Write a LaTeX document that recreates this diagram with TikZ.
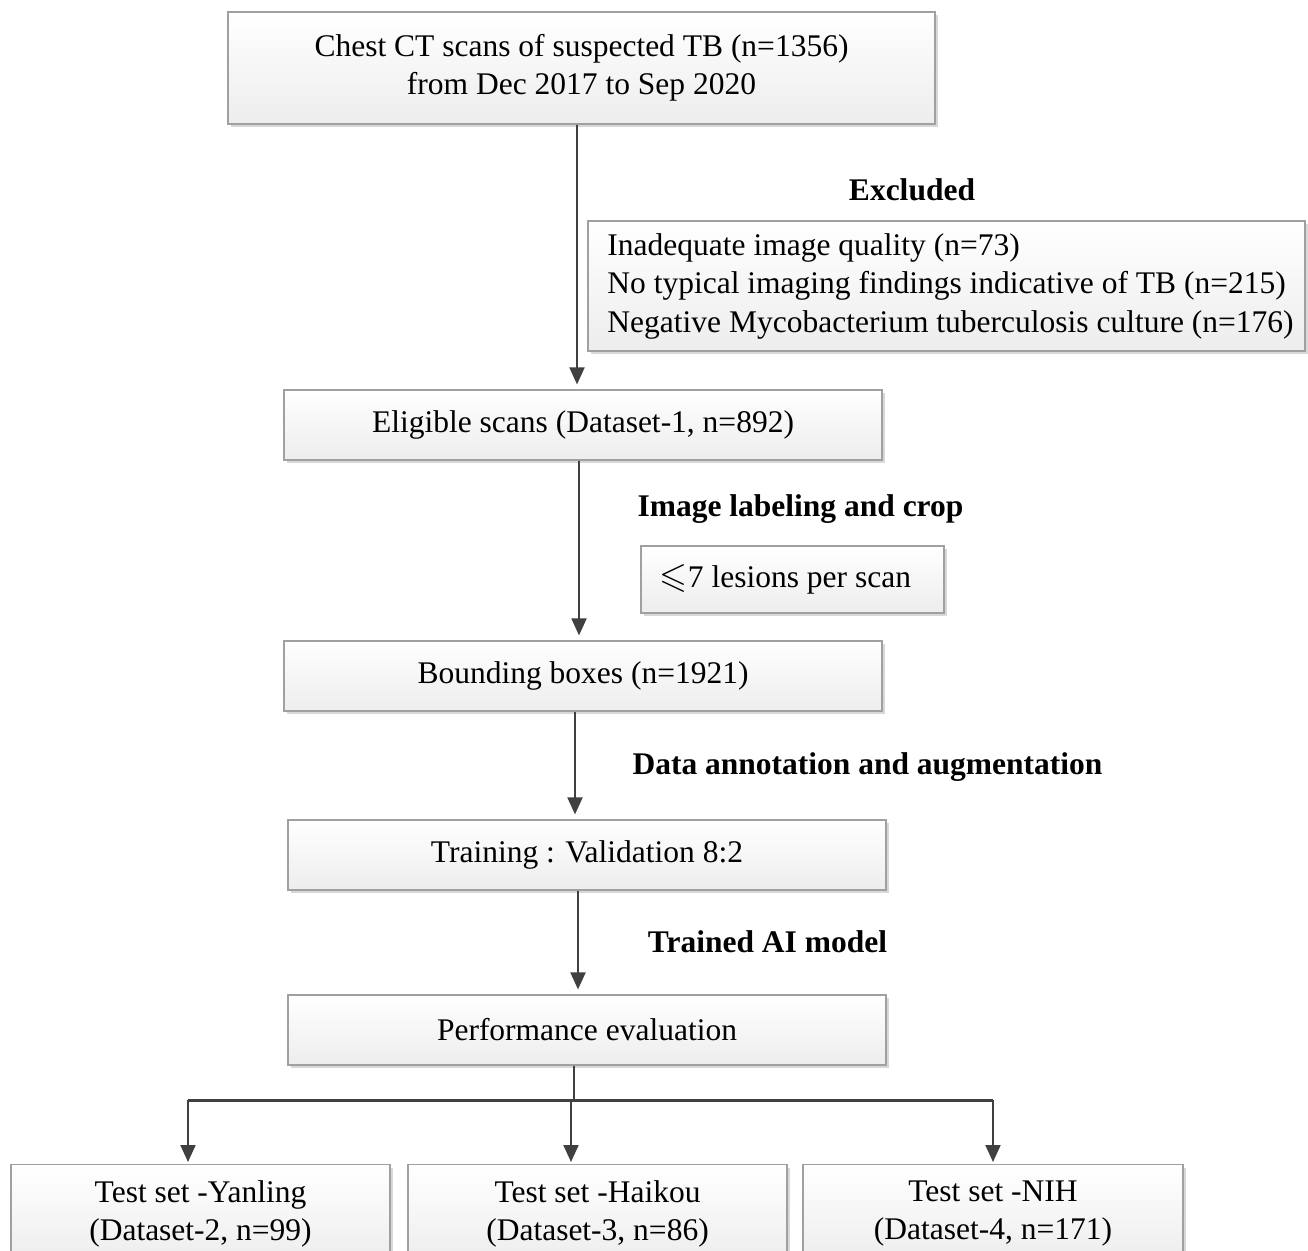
\documentclass[tikz,border=0pt]{standalone}
\usepackage{amssymb}
\usepackage{fontspec}
\setmainfont{Liberation Serif}
\usetikzlibrary{arrows.meta,shadows,calc}
\definecolor{boxline}{HTML}{A0A0A0}
\definecolor{boxbot}{HTML}{EDEDED}
\definecolor{shadowc}{HTML}{D8D8D8}
\definecolor{arrowc}{HTML}{404040}
\begin{document}
\begin{tikzpicture}[x=1pt,y=-1pt,
  font=\fontsize{31.5}{38.5}\selectfont,
  box/.style={draw=boxline, line width=1.2pt, top color=white, bottom color=boxbot,
    drop shadow={shadow xshift=3pt, shadow yshift=-3pt, fill=shadowc, opacity=1},
    align=center, inner sep=0pt},
  conn/.style={draw=arrowc, line width=2pt},
  arr/.style={conn, -{Triangle[length=17pt,width=15pt]}, shorten >=5pt},
  lbl/.style={font=\fontsize{31.5}{38.5}\selectfont\bfseries, inner sep=0pt}]
\path[use as bounding box, clip] (0,0) rectangle (1308,1250);
\fill[white] (0,0) rectangle (1308,1250);

\node[box, minimum width=707pt, minimum height=112pt] (b1) at (581.5,68)
  {Chest CT scans of suspected TB (n=1356)\\from Dec 2017 to Sep 2020};
\node[lbl] (lex) at (912,190) {Excluded};
\node[box, minimum width=717pt, minimum height=130pt, align=left] (ex) at (946.5,286)
  {\hspace*{8pt}Inadequate image quality (n=73)\\\hspace*{8pt}No typical imaging findings indicative of TB (n=215)\\\hspace*{8pt}Negative Mycobacterium tuberculosis culture (n=176)};
\node[box, minimum width=598pt, minimum height=70pt] (b2) at (583,425)
  {Eligible scans (Dataset-1, n=892)};
\node[lbl] (lcrop) at (800.5,509) {Image labeling and crop};
\node[box, minimum width=303pt, minimum height=67pt] (les) at (792.5,579.5)
  {{\fontsize{36}{38}\selectfont$\leqslant$}7 lesions per scan\hspace*{14pt}};
\node[box, minimum width=598pt, minimum height=70pt] (b3) at (583,676)
  {Bounding boxes (n=1921)};
\node[lbl] (lann) at (867.5,767) {Data annotation and augmentation};
\node[box, minimum width=598pt, minimum height=70pt] (b4) at (587,855)
  {Training : Validation 8:2};
\node[lbl] (lai) at (767.5,942) {Trained AI model};
\node[box, minimum width=598pt, minimum height=70pt] (b5) at (587,1030)
  {Performance evaluation};

\node[box, minimum width=379pt, anchor=north, inner ysep=16pt] (t1) at (200.5,1164)
  {Test set -Yanling\\(Dataset-2, n=99)};
\node[box, minimum width=379pt, anchor=north, inner ysep=16pt] (t2) at (597.5,1164)
  {Test set -Haikou\\(Dataset-3, n=86)};
\node[box, minimum width=380pt, anchor=north, inner ysep=16pt] (t3) at (993,1164)
  {Test set -NIH\\(Dataset-4, n=171)};

\coordinate (x1) at (577,0);
\coordinate (x2) at (579,0);
\coordinate (x3) at (575,0);
\coordinate (x4) at (578,0);
\draw[arr] (b1.south -| x1) -- (b2.north -| x1);
\draw[arr] (b2.south -| x2) -- (b3.north -| x2);
\draw[arr] (b3.south -| x3) -- (b4.north -| x3);
\draw[arr] (b4.south -| x4) -- (b5.north -| x4);

\coordinate (sp) at (574,1100);
\coordinate (a1) at (188,1100);
\coordinate (a2) at (571,1100);
\coordinate (a3) at (993,1100);
\draw[conn] (b5.south -| sp) -- (sp);
\draw[conn, line width=3pt] (a1) -- (a3);
\draw[arr, shorten >=2pt] (a1) -- (a1 |- t1.north);
\draw[arr, shorten >=2pt] (a2) -- (a2 |- t2.north);
\draw[arr, shorten >=2pt] (a3) -- (a3 |- t3.north);
\end{tikzpicture}
\end{document}
